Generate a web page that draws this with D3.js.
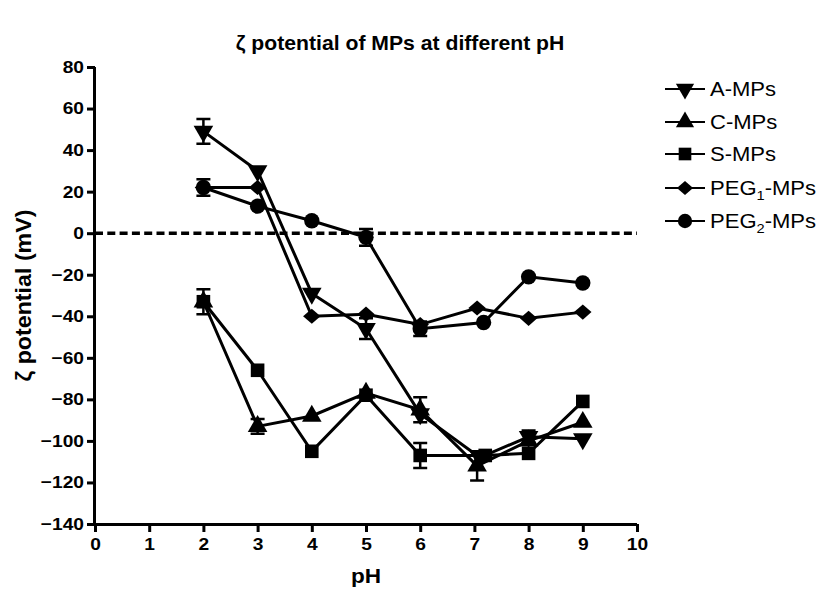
<!DOCTYPE html>
<html>
<head>
<meta charset="utf-8">
<script src="https://cdn.jsdelivr.net/npm/d3@7"></script>
<style>
  body { margin: 0; background: #fff; }
  text { font-family: "Liberation Sans", Arial, sans-serif; fill: #000; }
</style>
</head>
<body>
<svg id="chart"></svg>
<script>
// values (pH, zeta potential in mV, error bar half-height)
const phA = [2, 3, 4, 5, 6, 7.1, 8, 9]
const zetaA = [49, 30, -29, -46, -87, -108, -98, -99]
const errA = [6, 0, 0, 5, 0, 0, 3, 0]

const phC = [2, 3, 4, 5, 6, 7.05, 8, 9]
const zetaC = [-33, -93, -88, -77, -85, -112, -100, -91]
const errC = [0, 3.5, 0, 0, 6, 7, 0, 0]

const phS = [2, 3, 4, 5, 6, 7.2, 8, 9]
const zetaS = [-33, -66, -105, -78, -107, -107, -106, -81]
const errS = [6, 0, 0, 0, 6, 0, 0, 0]

const phP1 = [2, 3, 4, 5, 6, 7.05, 8, 9]
const zetaP1 = [22, 22, -40, -39, -44, -36, -41, -38]
const errP1 = [4, 0, 0, 0, 0, 0, 0, 0]

const phP2 = [2, 3, 4, 5, 6, 7.17, 8, 9]
const zetaP2 = [22, 13, 6, -2, -46, -43, -21, -24]
const errP2 = [0, 0, 0, 4, 3.5, 0, 0, 0]

const xTicks = d3.range(0, 11)
const yTicks = d3.range(-140, 81, 20)

const series = [
    {name: 'A-MPs', sym: 'tridown', ph: phA, zeta: zetaA, err: errA},
    {name: 'C-MPs', sym: 'triup', ph: phC, zeta: zetaC, err: errC},
    {name: 'S-MPs', sym: 'square', ph: phS, zeta: zetaS, err: errS},
    {name: 'PEG1-MPs', sub: '1', sym: 'diamond', ph: phP1, zeta: zetaP1, err: errP1},
    {name: 'PEG2-MPs', sub: '2', sym: 'circle', ph: phP2, zeta: zetaP2, err: errP2}
]

let W = 823, H = 589
let stretch = 1.13   // the source figure is a bit wider than tall
let svg = d3.select('#chart').attr('width', W).attr('height', H)

let x = d3.scaleLinear().domain([0, 10]).range([95, 637])
let y = d3.scaleLinear().domain([-140, 80]).range([524, 67])

// marker shapes
function symbolPath(s, size) {
    if (s === 'square') return d3.symbol(d3.symbolSquare, size)()
    if (s === 'circle') return d3.symbol(d3.symbolCircle, size)()
    if (s === 'triup' || s === 'tridown') return d3.symbol(d3.symbolTriangle, size * 0.9)()
    if (s === 'diamond') return d3.symbol(d3.symbolSquare, size * 0.62)()
}
function symbolTf(s) {
    if (s === 'tridown') return 'rotate(180)'
    if (s === 'diamond') return 'scale(1.15,1) rotate(45)'
    return ''
}

// axes
let axisL = d3.axisLeft(y).tickValues(yTicks).tickSize(8).tickPadding(3)
let axisB = d3.axisBottom(x).tickValues(xTicks).tickSize(8).tickPadding(6)

let gy = svg.append('g').attr('transform', `translate(${x(0)},0)`).call(axisL)
let gx = svg.append('g').attr('transform', `translate(0,${y(-140)})`).call(axisB)

for (let g of [gx, gy]) {
    g.select('.domain').attr('stroke', '#000').attr('stroke-width', 3)
    g.selectAll('.tick line').attr('stroke', '#000').attr('stroke-width', 3)
    g.selectAll('.tick text')
        .style('font-family', '"Liberation Sans", Arial, sans-serif')
        .style('font-weight', 'bold')
        .style('font-size', '17px')
        .attr('fill', '#000')
        .attr('transform', `scale(${stretch},1)`)
}
gy.selectAll('.tick text').attr('x', -11 / stretch)
gy.select('.domain').attr('d', `M-0.5,${y(80)}V${y(-140)}`)
gx.select('.domain').attr('d', `M${x(0)},0.5H${x(10)}`)

// zero line
svg.append('line')
    .attr('x1', x(0)).attr('x2', x(10))
    .attr('y1', y(0)).attr('y2', y(0))
    .attr('stroke', '#000').attr('stroke-width', 3.5)
    .attr('stroke-dasharray', '8,4.3')

// lines
let line = d3.line().x(d => x(d.ph)).y(d => y(d.v))
let lineG = svg.append('g')
let errG = svg.append('g')
let markG = svg.append('g')

series.forEach(s => {
    let pts = s.ph.map((p, i) => ({ph: p, v: s.zeta[i], e: s.err[i]}))
    lineG.append('path')
        .attr('d', line(pts))
        .attr('fill', 'none')
        .attr('stroke', '#000')
        .attr('stroke-width', 3)

    pts.filter(d => d.e > 0).forEach(d => {
        let cx = x(d.ph)
        errG.append('path')
            .attr('d', `M${cx},${y(d.v + d.e)}V${y(d.v - d.e)}M${cx - 7},${y(d.v + d.e)}H${cx + 7}M${cx - 7},${y(d.v - d.e)}H${cx + 7}`)
            .attr('stroke', '#000').attr('stroke-width', 2.5).attr('fill', 'none')
    })

    markG.selectAll(null)
        .data(pts)
        .enter().append('path')
        .attr('d', symbolPath(s.sym, 185))
        .attr('transform', d => `translate(${x(d.ph)},${y(d.v)}) ${symbolTf(s.sym)}`)
        .attr('fill', '#000')
})

// title
svg.append('text')
    .attr('transform', `translate(400,50) scale(1.06,1)`)
    .attr('text-anchor', 'middle')
    .style('font-weight', 'bold')
    .style('font-size', '20px')
    .text('ζ potential of MPs at different pH')

// axis titles
svg.append('text')
    .attr('transform', `translate(31,${(y(80) + y(-140)) / 2}) rotate(-90) scale(1,${stretch})`)
    .attr('text-anchor', 'middle')
    .attr('textLength', 172)
    .attr('lengthAdjust', 'spacingAndGlyphs')
    .style('font-weight', 'bold')
    .style('font-size', '19px')
    .text('ζ potential (mV)')

svg.append('text')
    .attr('transform', `translate(${x(5)},583) scale(${stretch},1)`)
    .attr('text-anchor', 'middle')
    .style('font-weight', 'bold')
    .style('font-size', '20px')
    .text('pH')

// legend
let legendY = [89, 122, 154, 188, 221]
let legend = svg.append('g')
series.forEach((s, i) => {
    let g = legend.append('g').attr('transform', `translate(0,${legendY[i]})`)
    g.append('line').attr('x1', 665).attr('x2', 705).attr('stroke', '#000').attr('stroke-width', 2)
    g.append('path')
        .attr('d', symbolPath(s.sym, 160))
        .attr('transform', `translate(685,0) ${symbolTf(s.sym)}`)
        .attr('fill', '#000')
    let t = g.append('text')
        .attr('transform', `translate(710,7) scale(${stretch},1)`)
        .style('font-size', '19.5px')
    if (s.sub) {
        t.append('tspan').text('PEG')
        t.append('tspan').attr('dy', 5).style('font-size', '13px').text(s.sub)
        t.append('tspan').attr('dy', -5).text('-MPs')
    } else {
        t.text(s.name)
    }
})
</script>
</body>
</html>
